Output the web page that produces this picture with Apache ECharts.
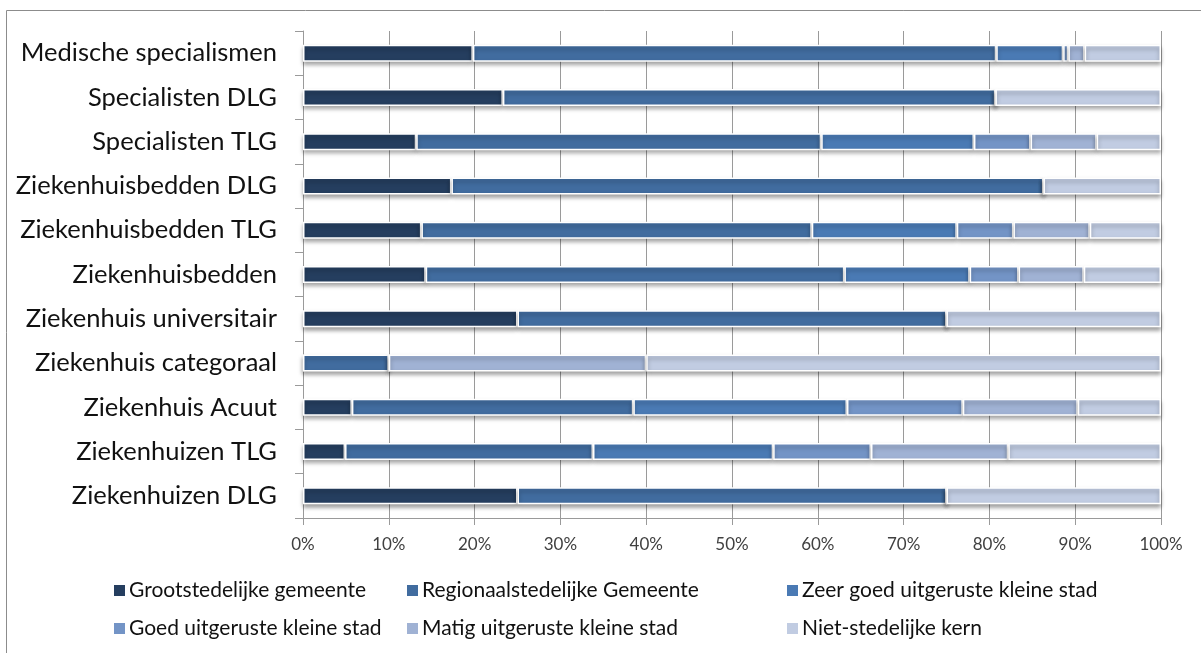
<!DOCTYPE html>
<html>
<head>
<meta charset="utf-8">
<script src="https://cdn.jsdelivr.net/npm/echarts@6/dist/echarts.min.js"></script>
<style>
  html, body { margin: 0; padding: 0; background: #fff; }
  #chart { width: 1201px; height: 653px; }
</style>
</head>
<body>
<div id="chart"></div>
<script>
// categorieën, van boven naar beneden
const categories = [
  'Medische specialismen', 'Specialisten DLG', 'Specialisten TLG',
  'Ziekenhuisbedden DLG', 'Ziekenhuisbedden TLG', 'Ziekenhuisbedden',
  'Ziekenhuis universitair', 'Ziekenhuis categoraal', 'Ziekenhuis Acuut',
  'Ziekenhuizen TLG', 'Ziekenhuizen DLG'
];
const seriesNames = [
  'Grootstedelijke gemeente', 'Regionaalstedelijke Gemeente', 'Zeer goed uitgeruste kleine stad',
  'Goed uitgeruste kleine stad', 'Matig uitgeruste kleine stad', 'Niet-stedelijke kern'
];
const grootstedelijk = [19.8, 23.3, 13.2, 17.3, 13.8, 14.3, 25, 0, 5.7, 4.9, 25];
const regionaal      = [61.0, 57.4, 47.2, 69.0, 45.5, 48.8, 50, 10, 32.8, 28.9, 50];
const zeerGoed       = [7.8, 0, 17.8, 0, 16.9, 14.6, 0, 0, 24.9, 21.0, 0];
const goed           = [0.6, 0, 6.6, 0, 6.6, 5.7, 0, 0, 13.5, 11.4, 0];
const matig          = [1.9, 0, 7.7, 0, 8.9, 7.6, 0, 30, 13.4, 16.0, 0];
const nietStedelijk  = [8.9, 19.3, 7.5, 13.7, 8.3, 9.0, 25, 60, 9.7, 17.8, 25];
const xTicks = [0, 10, 20, 30, 40, 50, 60, 70, 80, 90, 100];

const colors = ['#253e5f', '#416c9f', '#4a7ab4', '#7394c6', '#a0b2d4', '#c1cce2'];
const values = [grootstedelijk, regionaal, zeerGoed, goed, matig, nietStedelijk];

const chart = echarts.init(document.getElementById('chart'));

const legendBase = {
  orient: 'vertical',
  top: 575,
  itemWidth: 13,
  itemHeight: 13,
  itemGap: 17,
  icon: 'rect',
  textStyle: { fontFamily: 'Lato', fontSize: 21, color: '#111', padding: [0, 0, 0, -2] }
};

const option = {
  animation: false,
  color: colors,
  textStyle: { fontFamily: 'Lato' },
  graphic: [{
    type: 'rect',
    shape: { x: 6.5, y: 10.5, width: 1300, height: 700 },
    style: { fill: 'none', stroke: '#8c8c8c', lineWidth: 1 },
    silent: true
  }],
  grid: { left: 303, right: 40, top: 31, bottom: 135 },
  legend: [
    Object.assign({}, legendBase, { left: 107, data: [seriesNames[0], seriesNames[3]] }),
    Object.assign({}, legendBase, { left: 400, data: [seriesNames[1], seriesNames[4]] }),
    Object.assign({}, legendBase, { left: 780, data: [seriesNames[2], seriesNames[5]] })
  ],
  xAxis: {
    type: 'value',
    min: xTicks[0],
    max: xTicks[xTicks.length - 1],
    interval: 10,
    axisLine: { show: true, lineStyle: { color: '#9a9a9a', width: 1 } },
    axisTick: { show: true, length: 7, lineStyle: { color: '#9a9a9a' } },
    splitLine: { show: true, lineStyle: { color: '#9a9a9a', width: 1 } },
    axisLabel: {
      formatter: '{value}%', fontFamily: 'Lato', fontSize: 17, color: '#404040', margin: 18
    }
  },
  yAxis: {
    type: 'category',
    inverse: true,
    data: categories,
    axisLine: { show: true, lineStyle: { color: '#9a9a9a', width: 1 } },
    axisTick: { show: true, length: 8, lineStyle: { color: '#9a9a9a' } },
    axisLabel: { fontFamily: 'Lato', fontSize: 25.5, color: '#111', margin: 26 }
  },
  series: values.map((v, i) => ({
    name: seriesNames[i],
    type: 'bar',
    stack: 'total',
    barWidth: 17,
    data: v,
    itemStyle: {
      color: colors[i],
      borderColor: '#ffffff',
      borderWidth: 1.5,
      shadowColor: 'rgba(0,0,0,0.35)',
      shadowBlur: 4,
      shadowOffsetY: 3
    }
  }))
};

chart.setOption(option);
</script>
</body>
</html>
